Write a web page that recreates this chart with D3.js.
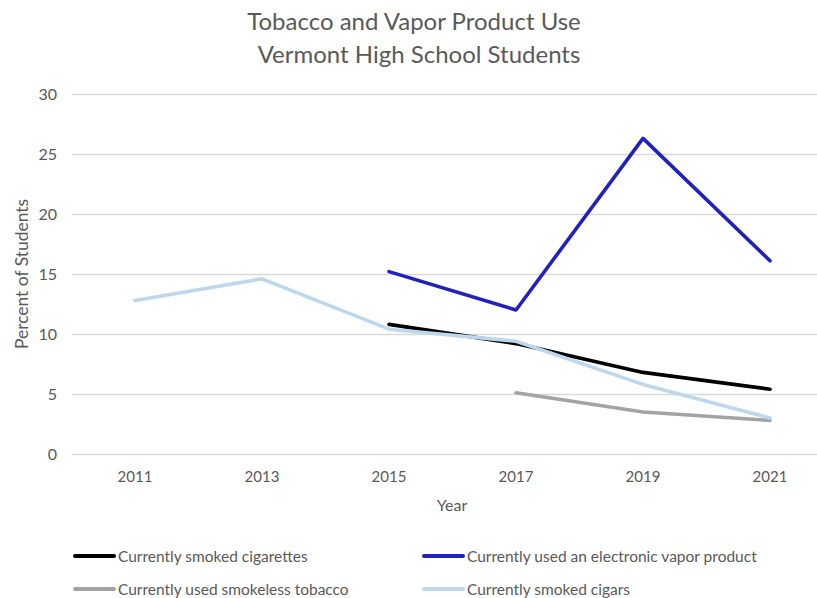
<!DOCTYPE html>
<html>
<head>
<meta charset="utf-8">
<script src="https://cdn.jsdelivr.net/npm/d3@7"></script>
<style>
  html, body { margin: 0; padding: 0; background: #fff; }
  svg { display: block; font-family: Lato, "Open Sans", sans-serif; }
</style>
</head>
<body>
<svg id="chart" width="817" height="598"></svg>
<script>
// Survey years and the share of students (percent) for each product
const years = ["2011", "2013", "2015", "2017", "2019", "2021"];
const cigarettes = [null, null, 10.8, 9.2, 6.8, 5.4];
const vapor = [null, null, 15.2, 12.0, 26.3, 16.1];
const smokeless = [null, null, null, 5.1, 3.5, 2.8];
const cigars = [12.8, 14.6, 10.4, 9.4, 5.8, 3.0];
const yTicks = [0, 5, 10, 15, 20, 25, 30];

const series = [
  { name: "Currently smoked cigarettes", values: cigarettes, color: "#000000" },
  { name: "Currently used an electronic vapor product", values: vapor, color: "#2121bd" },
  { name: "Currently used smokeless tobacco", values: smokeless, color: "#a3a3a3" },
  { name: "Currently smoked cigars", values: cigars, color: "#bdd7ee" }
];

const svg = d3.select("#chart");
const textColor = "#595959";
const fontStack = "Lato, 'Open Sans', sans-serif";

const x = d3.scaleBand().domain(years).range([71.5, 833.5]).padding(0);
const cx = d => x(d) + x.bandwidth() / 2;
const y = d3.scaleLinear().domain([0, 30]).range([454, 94]);

// Title
const title = svg.append("text")
  .attr("text-anchor", "middle")
  .attr("fill", textColor).attr("font-size", 24);
title.append("tspan").attr("x", 414).attr("y", 30).text("Tobacco and Vapor Product Use");
title.append("tspan").attr("x", 419).attr("y", 63).text("Vermont High School Students");

// Horizontal gridlines with value labels
const yAxis = d3.axisLeft(y).tickValues(yTicks).tickSize(-(817 - 72)).tickPadding(15);
const gy = svg.append("g").attr("transform", "translate(72,0)").call(yAxis);
gy.select(".domain").remove();
gy.selectAll(".tick line").attr("stroke", "#d9d9d9").attr("stroke-width", 1.3);
gy.selectAll(".tick text").attr("fill", textColor).attr("font-size", 16)
  .attr("font-family", fontStack);

// Category labels along the bottom
const xAxis = d3.axisBottom(x).tickSize(0).tickPadding(17);
const gx = svg.append("g").attr("transform", "translate(0,454)").call(xAxis);
gx.select(".domain").remove();
gx.selectAll(".tick text").attr("fill", textColor).attr("font-size", 15)
  .attr("font-family", fontStack);

// Axis titles
svg.append("text").attr("x", 452).attr("y", 511).attr("text-anchor", "middle")
  .attr("fill", textColor).attr("font-size", 16).text("Year");
svg.append("text").attr("transform", "translate(28,274) rotate(-90)")
  .attr("text-anchor", "middle").attr("fill", textColor).attr("font-size", 17)
  .attr("textLength", 150).attr("lengthAdjust", "spacingAndGlyphs")
  .text("Percent of Students");

// Lines
const line = d3.line()
  .defined(d => d.v != null)
  .x(d => cx(d.year))
  .y(d => y(d.v));

series.forEach(s => {
  const pts = years.map((yr, i) => ({ year: yr, v: s.values[i] }));
  svg.append("path")
    .datum(pts)
    .attr("d", line)
    .attr("fill", "none")
    .attr("stroke", s.color)
    .attr("stroke-width", 3.6)
    .attr("stroke-linejoin", "round")
    .attr("stroke-linecap", "round");
});

// Legend in two columns
const legendPos = [
  { x: 75, y: 556 }, { x: 424, y: 556 },
  { x: 75, y: 589 }, { x: 424, y: 589 }
];
series.forEach((s, i) => {
  const p = legendPos[i];
  const g = svg.append("g").attr("transform", `translate(${p.x},${p.y})`);
  g.append("line").attr("x1", 0).attr("x2", 39).attr("y1", 0).attr("y2", 0)
    .attr("stroke", s.color).attr("stroke-width", 4).attr("stroke-linecap", "round");
  g.append("text").attr("x", 43).attr("y", 5.5).attr("fill", textColor)
    .attr("font-size", 15.5).text(s.name);
});
</script>
</body>
</html>
